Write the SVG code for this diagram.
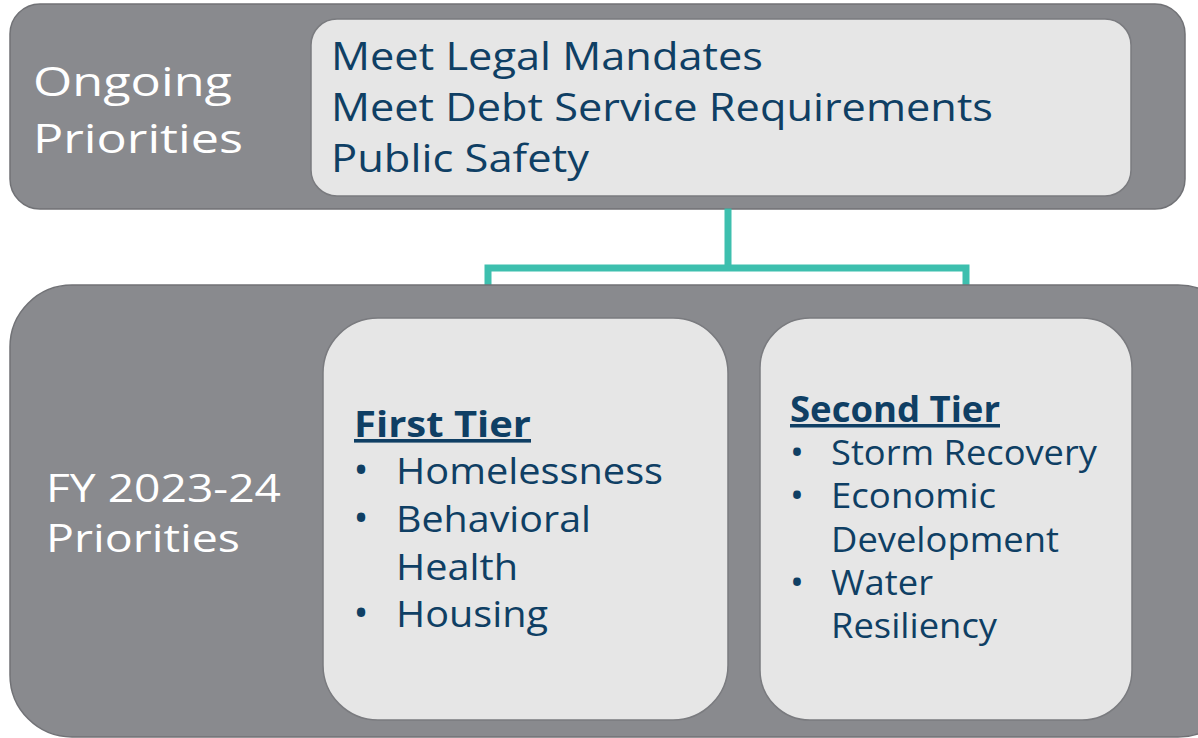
<svg xmlns="http://www.w3.org/2000/svg" width="1198" height="738" viewBox="0 0 1198 738">
<style>
.band{fill:#898a8e;stroke:#717276;stroke-width:1.5}
.card{fill:#e6e6e6;stroke:#7a7b7f;stroke-width:1.5}
.lbl{font-family:"Open Sans","Noto Sans",sans-serif;fill:#ffffff}
.t{font-family:"Open Sans","Noto Sans",sans-serif;fill:#0f3f64}
.bl{text-anchor:middle}
.h{font-weight:bold;text-decoration:underline}
.c{fill:none;stroke:#3dbfae;stroke-width:7;stroke-linecap:square}
</style>
<rect x="0" y="0" width="1198" height="738" fill="#ffffff"/>
<g id="ongoing">
<rect class="band" x="10" y="4" width="1175" height="205" rx="30"/>
<text class="lbl" x="33" y="96" font-size="41" textLength="199" lengthAdjust="spacingAndGlyphs">Ongoing</text>
<text class="lbl" x="33" y="153" font-size="41" textLength="210" lengthAdjust="spacingAndGlyphs">Priorities</text>
</g>
<g id="ongoing-list">
<rect class="card" x="311" y="19" width="820" height="177" rx="26"/>
<g font-size="39">
<text class="t" x="331" y="70" textLength="432" lengthAdjust="spacingAndGlyphs">Meet Legal Mandates</text>
<text class="t" x="331" y="121" textLength="662" lengthAdjust="spacingAndGlyphs">Meet Debt Service Requirements</text>
<text class="t" x="331" y="172" textLength="258" lengthAdjust="spacingAndGlyphs">Public Safety</text>
</g>
</g>
<g id="connectors">
<path class="c" d="M728 212 V268 M488 268 H966 M488 268 V314 M966 268 V314"/>
</g>
<g id="fy">
<rect class="band" x="10" y="285" width="1230" height="452" rx="62"/>
<text class="lbl" x="46" y="502" font-size="38" textLength="235" lengthAdjust="spacingAndGlyphs">FY 2023-24</text>
<text class="lbl" x="46" y="552" font-size="38" textLength="194" lengthAdjust="spacingAndGlyphs">Priorities</text>
</g>
<g id="first-tier">
<rect class="card" x="323" y="318" width="405" height="402" rx="55"/>
<text class="t h" x="354" y="437" font-size="36" textLength="177" lengthAdjust="spacingAndGlyphs">First Tier</text>
<g font-size="36">
<text class="t" y="484"><tspan class="bl" x="361" font-size="40">•</tspan><tspan x="396" textLength="267" lengthAdjust="spacingAndGlyphs">Homelessness</tspan></text>
<text class="t" y="532"><tspan class="bl" x="361" font-size="40">•</tspan><tspan x="396" textLength="195" lengthAdjust="spacingAndGlyphs">Behavioral</tspan></text>
<text class="t" x="396" y="580" textLength="122" lengthAdjust="spacingAndGlyphs">Health</text>
<text class="t" y="627"><tspan class="bl" x="361" font-size="40">•</tspan><tspan x="396" textLength="152" lengthAdjust="spacingAndGlyphs">Housing</tspan></text>
</g>
</g>
<g id="second-tier">
<rect class="card" x="760" y="318" width="372" height="402" rx="50"/>
<text class="t h" x="790" y="422" font-size="35" textLength="210" lengthAdjust="spacingAndGlyphs">Second Tier</text>
<g font-size="34">
<text class="t" y="465"><tspan class="bl" x="797" font-size="37">•</tspan><tspan x="831" textLength="266" lengthAdjust="spacingAndGlyphs">Storm Recovery</tspan></text>
<text class="t" y="508"><tspan class="bl" x="797" font-size="37">•</tspan><tspan x="831" textLength="165" lengthAdjust="spacingAndGlyphs">Economic</tspan></text>
<text class="t" x="831" y="552" textLength="228" lengthAdjust="spacingAndGlyphs">Development</text>
<text class="t" y="595"><tspan class="bl" x="797" font-size="37">•</tspan><tspan x="831" textLength="102" lengthAdjust="spacingAndGlyphs">Water</tspan></text>
<text class="t" x="831" y="638" textLength="166" lengthAdjust="spacingAndGlyphs">Resiliency</text>
</g>
</g>
</svg>
